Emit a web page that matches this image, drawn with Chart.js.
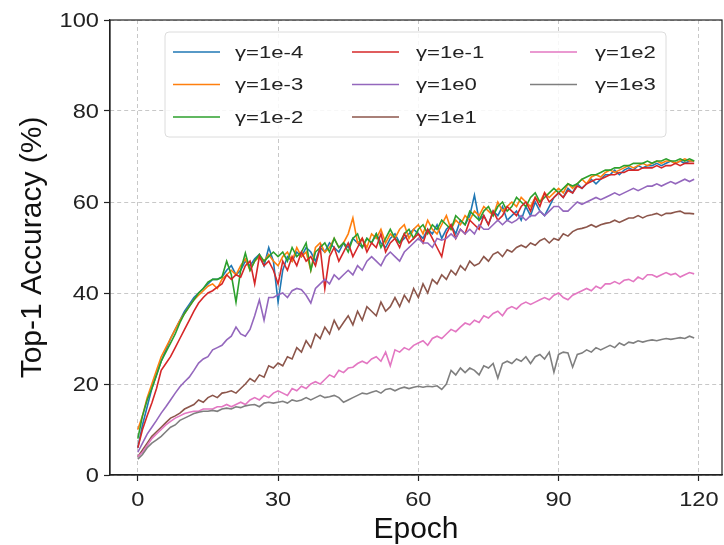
<!DOCTYPE html>
<html>
<head>
<meta charset="utf-8">
<script src="https://cdn.jsdelivr.net/npm/chart.js@4.4.1/dist/chart.umd.min.js"></script>
<style>
  html, body { margin: 0; padding: 0; background: #fff; }
  #wrap { width: 724px; height: 545px; }
</style>
</head>
<body>
<div id="wrap"><canvas id="accChart" width="724" height="545"></canvas></div>
<script>
// epochs 0..119
const epochs = Array.from({ length: 120 }, (_, i) => i);

const xTicks = [0, 30, 60, 90, 120];
const yTicks = [0, 20, 40, 60, 80, 100];

const seriesNames = ['γ=1e-4', 'γ=1e-3', 'γ=1e-2', 'γ=1e-1', 'γ=1e0', 'γ=1e1', 'γ=1e2', 'γ=1e3'];
const seriesColors = ['#1f77b4', '#ff7f0e', '#2ca02c', '#d62728', '#9467bd', '#8c564b', '#e377c2', '#7f7f7f'];

const gamma1em4 = [
  6, 11, 15, 19, 22, 25, 27.5, 30, 32, 34, 36, 37.5, 39, 40, 41, 42, 43, 43, 43.5, 45, 46, 44, 45, 47, 46, 47.5, 48.5, 46, 50, 47,
  38, 45, 48, 47, 49, 48, 50, 49, 47, 50, 49, 51, 50, 49, 51, 50, 52, 51, 50, 52, 51, 53, 51, 50, 52, 53, 51, 52, 53, 54,
  53, 52, 54, 53, 55, 52, 54, 55, 53, 56, 55, 57, 61.5, 56, 57, 55, 58, 57, 59, 56, 57, 58, 56, 59, 57, 60, 58, 57, 59, 61,
  62, 61, 63, 62, 64, 63, 64, 65, 64, 65, 66, 66, 67, 66, 67, 67.5, 67, 68, 67.5, 68, 68, 68.5, 68, 68.5, 69, 68.5, 69, 68.5, 69, 69
];
const gamma1em3 = [
  10, 13, 17, 20, 23, 26, 28, 30, 32, 34, 35.5, 37, 38.5, 39.5, 40.5, 41.5, 42, 41, 43, 44, 45, 44, 46, 47.5, 45, 47, 48, 47, 48.5, 47,
  46, 48, 49, 47, 50, 48, 49, 45, 50, 51, 49, 50, 52, 50, 51, 53, 56.5, 51, 52, 50, 53, 52, 54, 51, 53, 52, 54, 55, 52, 54,
  55, 53, 56, 54, 53, 55, 57, 54, 56, 55, 57, 56, 58, 57, 59, 58, 57, 60, 58, 59, 60, 59, 61, 60, 59, 61, 60, 62, 61, 62,
  63, 62, 64, 63, 64, 65, 64, 65.5, 66, 65.5, 66.5, 67, 66.5, 67, 67.5, 68, 67.5, 68, 68.5, 68, 68.5, 69, 68.5, 69, 69, 68.5, 69, 69.5, 69, 69
];
const gamma1em2 = [
  8, 13, 16.5, 19, 22, 25, 27, 29, 31, 33.5, 35.5, 37, 38.5, 40, 41, 42.4, 43, 43, 43.5, 47, 44, 38, 45, 48.8, 45, 47, 48.5, 47, 48, 49,
  48, 49, 47, 50, 48, 49, 51, 45, 49, 50, 51, 49, 52, 50, 51, 49, 52, 53, 50, 52, 51, 53, 50, 52, 54, 52, 51, 53, 54, 52,
  54, 55, 53, 55, 54, 56, 55, 54, 57, 56, 55, 58, 57, 56, 58, 59, 57, 59, 60, 58, 59, 61, 60, 59, 61, 62, 60, 61, 62, 63,
  62, 63, 64, 63.5, 64, 65, 65.5, 66, 66, 66.5, 67, 67, 67.5, 67.5, 68, 68, 68.5, 68.5, 68.5, 69, 68.5, 69, 69, 69.5, 69, 69, 69.5, 69, 69.5, 69
];
const gamma1em1 = [
  6, 10, 13, 15.8, 19, 23, 24.5, 26, 28, 30, 32, 34, 36, 37.8, 39, 40, 40.5, 41.3, 42, 44, 43, 44, 43.5, 46, 47, 42, 48, 46, 47, 45,
  42, 47, 45, 48, 46, 49, 47, 48, 46, 50, 41, 48, 50, 47, 49, 51, 48, 50, 52, 49, 51, 50, 53, 49, 51, 52, 50, 53, 51, 52,
  53, 51, 54, 52, 50, 48, 53, 55, 52, 54, 53, 56, 55, 54, 57, 55, 58, 56, 57, 59, 58, 57, 59, 60, 58, 61, 59, 62, 60, 61,
  62, 61, 62.5, 62, 63.5, 63, 64, 64.5, 65, 65, 65.5, 66, 66, 66.5, 66.5, 67, 67, 67, 67.5, 67.5, 67.5, 68, 67.5, 68, 68, 68.5, 68, 68.5, 68.5, 68.5
];
const gamma1e0 = [
  5, 7, 9, 10.5, 12, 13.6, 15, 16.5, 18, 19.4, 20.5, 21.5, 23, 24.6, 25.5, 26, 27.5, 28, 28.5, 29.7, 30.5, 32.5, 31, 30.5, 32, 35, 38.5, 34, 39, 39,
  39.6, 40, 39, 40.5, 41, 40.7, 39.5, 37.8, 41, 42, 43, 42, 44, 43, 44, 45, 44, 46, 45, 47, 48, 47, 46, 48, 49, 48, 47, 49, 50, 51,
  52, 51, 51, 50, 52, 51.6, 52, 53, 52, 54, 53, 54, 53, 55, 54, 54, 55, 56, 55, 56, 55.4, 56, 57, 56, 57, 57, 58, 57, 58, 59,
  59, 58, 58, 59, 60, 59.5, 60, 60.5, 61, 60.5, 61, 61.5, 62, 61.5, 62, 62.5, 63, 62.5, 63, 63.5, 63.5, 64, 63.5, 64, 64.5, 64, 64.5, 65, 64.5, 65
];
const gamma1e1 = [
  4, 5.5, 7, 8.5, 9.5, 10.5, 11.5, 12.5, 13, 13.6, 14.5, 15, 15.5, 16.5, 16, 17, 17.5, 17, 18, 18.2, 18.5, 18, 19, 20, 21.2, 20.5, 22, 21.5, 24, 23.5,
  24.6, 24, 26, 25.5, 28, 27, 29.5, 28, 31, 30, 32.5, 31, 34, 32, 33.5, 35, 33, 36, 34, 37, 36, 35, 38, 36, 37, 39, 37, 39.5, 38, 41,
  39, 42, 40, 43, 42, 44, 43, 45, 44, 46, 45, 47, 46, 46.5, 48, 47, 48.5, 49, 48, 49.5, 49, 50, 50.5, 50, 51, 50.5, 51.5, 52, 51, 52,
  51.6, 53, 52.5, 53.5, 54, 54.2, 54.5, 55, 54.5, 55, 55.3, 55.5, 56, 55.5, 56, 56.5, 56.5, 57, 56.5, 57, 57.2, 57.5, 57, 57.5, 57.5, 57.8, 58, 57.5, 57.5, 57.4
];
const gamma1e2 = [
  4, 5, 6.5, 8, 9, 10, 11, 11.8, 12.5, 13, 13.5, 13.8, 14, 14, 14.5, 14.5, 14.5, 15, 15, 15.5, 15, 15.5, 16, 15.5, 16.5, 17, 16.5, 17.5, 17, 18,
  18.5, 18, 17.5, 19, 18.5, 19.5, 19, 20, 20.5, 20, 21, 22, 21.5, 23, 22.5, 23.5, 23.7, 24.5, 25, 24.5, 25.5, 26, 25, 27, 24, 27.5, 27, 28, 27.5, 28.5,
  29, 29.5, 28.5, 30, 30.5, 30, 31, 32, 31.5, 32.5, 33.4, 33, 34, 33.5, 35, 34.5, 35.5, 36, 35, 36.5, 37, 36.5, 37.5, 38, 37.5, 38, 38.5, 39, 38.5, 39.5,
  40, 39, 38.5, 39.5, 40, 40.5, 41, 40.5, 41.5, 41, 42, 42, 42.5, 42, 42.8, 43, 42.5, 43.5, 43, 44, 44, 43.5, 44, 44.5, 44, 44.3, 43.5, 44, 44.5, 44.2
];
const gamma1e3 = [
  3.5, 4.5, 6, 7, 7.7, 8.5, 9.5, 10.5, 11, 12, 12.5, 13, 13.5, 13.8, 14, 14, 14.2, 14, 14.5, 14.7, 14.5, 15, 14.8, 15.2, 15.4, 15.5, 15, 15.8, 16, 15.8,
  16, 16.2, 15.8, 16.5, 16.2, 16.5, 17, 16.5, 17, 17.5, 17, 17.2, 17.5, 17, 16, 16.5, 17, 17.5, 18, 17.8, 18.2, 18.5, 18, 18.8, 19, 18.5, 19, 19.3, 19, 19.3,
  19.5, 19.3, 19.5, 19.4, 19.6, 18.8, 20, 23, 22, 23.5, 22.5, 23.5, 23, 22, 24, 23.5, 24.5, 21.3, 24.5, 25, 24.5, 25.5, 25, 26, 24.5, 26, 26.5, 25.5, 27, 22.6,
  26.5, 27, 26.8, 23.7, 26.5, 26.8, 27.5, 27, 28, 27.5, 28, 28.5, 28, 29, 28.5, 29.2, 29, 29.5, 29.2, 29.5, 29.7, 29.5, 29.8, 30, 29.8, 30, 30.2, 30, 30.5, 30.1
];

const seriesValues = [gamma1em4, gamma1em3, gamma1em2, gamma1em1, gamma1e0, gamma1e1, gamma1e2, gamma1e3];

const FONT = "'Liberation Sans', Arial, Helvetica, sans-serif";
const AXIS_COLOR = '#222';

// text drawn a bit wider than the font, like the source figure
function wideText(ctx, text, x, y, sx) {
  ctx.save();
  ctx.translate(x, y);
  ctx.scale(sx, 1);
  ctx.fillText(text, 0, 0);
  ctx.restore();
}

// matplotlib-like box: top/right spines, tick labels and the 3-column legend
const framePlugin = {
  id: 'frame',
  afterDraw(chart) {
    const { ctx, chartArea: a } = chart;
    const xs = chart.scales.x, ys = chart.scales.y;
    ctx.save();
    ctx.strokeStyle = AXIS_COLOR;
    ctx.lineWidth = 1.2;
    ctx.strokeRect(a.left, a.top, a.right - a.left, a.bottom - a.top);

    // tick labels
    ctx.fillStyle = AXIS_COLOR;
    ctx.font = '20px ' + FONT;
    ctx.textAlign = 'center';
    ctx.textBaseline = 'top';
    xTicks.forEach(v => wideText(ctx, String(v), xs.getPixelForValue(v), a.bottom + 15, 1.18));
    ctx.textAlign = 'right';
    ctx.textBaseline = 'middle';
    yTicks.forEach(v => wideText(ctx, String(v), a.left - 11, ys.getPixelForValue(v) + 1, 1.18));

    // legend box
    const bx = 165, by = 32, bw = 501, bh = 105, r = 4;
    ctx.beginPath();
    ctx.moveTo(bx + r, by);
    ctx.arcTo(bx + bw, by, bx + bw, by + bh, r);
    ctx.arcTo(bx + bw, by + bh, bx, by + bh, r);
    ctx.arcTo(bx, by + bh, bx, by, r);
    ctx.arcTo(bx, by, bx + bw, by, r);
    ctx.closePath();
    ctx.fillStyle = 'rgba(255,255,255,0.85)';
    ctx.fill();
    ctx.strokeStyle = '#dcdcdc';
    ctx.lineWidth = 1;
    ctx.stroke();

    const lineX = [173, 352, 530];
    const textX = [235, 416, 595];
    const rowY = [52, 84.5, 117];
    ctx.font = '17px ' + FONT;
    ctx.textBaseline = 'middle';
    ctx.textAlign = 'left';
    seriesNames.forEach((name, i) => {
      const col = Math.floor(i / 3), row = i % 3;
      ctx.strokeStyle = seriesColors[i];
      ctx.lineWidth = 1.6;
      ctx.beginPath();
      ctx.moveTo(lineX[col], rowY[row]);
      ctx.lineTo(lineX[col] + 47, rowY[row]);
      ctx.stroke();
      ctx.fillStyle = AXIS_COLOR;
      wideText(ctx, name, textX[col], rowY[row] + 1, 1.3);
    });
    ctx.restore();
  }
};

const ctx = document.getElementById('accChart').getContext('2d');
new Chart(ctx, {
  type: 'line',
  data: {
    datasets: seriesValues.map((vals, i) => ({
      label: seriesNames[i],
      data: vals.map((v, j) => ({ x: epochs[j], y: v })),
      borderColor: seriesColors[i],
      borderWidth: 1.6,
      pointRadius: 0,
      fill: false,
      tension: 0,
      order: 8 - i
    }))
  },
  options: {
    responsive: false,
    animation: false,
    layout: { padding: { left: 0, right: 2, top: 20, bottom: 0 } },
    plugins: { legend: { display: false }, tooltip: { enabled: false } },
    scales: {
      x: {
        type: 'linear',
        min: -5.95,
        max: 124.95,
        afterBuildTicks: s => { s.ticks = xTicks.map(v => ({ value: v })); },
        afterFit: s => { s.height = 70; },
        ticks: { display: false },
        grid: { color: '#c8c8c8', lineWidth: 1, tickLength: 6, tickColor: AXIS_COLOR, tickWidth: 1.2 },
        border: { color: AXIS_COLOR, width: 1.2, dash: [4, 3] },
        title: { display: true, text: 'Epoch', color: '#111', font: { family: FONT, size: 30, lineHeight: 1 }, padding: { top: 0, bottom: 0 } }
      },
      y: {
        min: 0,
        max: 100,
        afterBuildTicks: s => { s.ticks = yTicks.map(v => ({ value: v })); },
        afterFit: s => { s.width = 110; },
        ticks: { display: false },
        grid: { color: '#c8c8c8', lineWidth: 1, tickLength: 6, tickColor: AXIS_COLOR, tickWidth: 1.2 },
        border: { color: AXIS_COLOR, width: 1.2, dash: [4, 3] },
        title: { display: true, text: 'Top-1 Accuracy (%)', color: '#111', font: { family: FONT, size: 30, lineHeight: 1 }, padding: { top: 18, bottom: 0 } }
      }
    }
  },
  plugins: [framePlugin]
});
</script>
</body>
</html>
